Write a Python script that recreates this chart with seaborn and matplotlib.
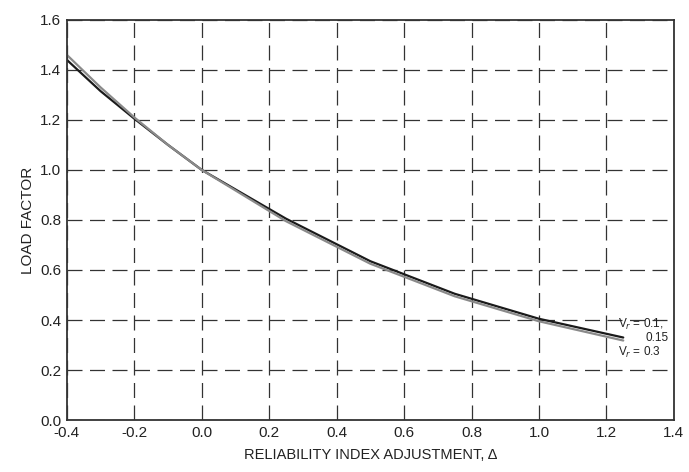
import pandas as pd
import seaborn as sns
import matplotlib.pyplot as plt

# valores
delta = [-0.4, -0.3, -0.2, -0.1, 0.0, 0.25, 0.5, 0.75, 1.0, 1.25]
fator_baixo_v = [1.44, 1.315, 1.205, 1.10, 1.00, 0.805, 0.635, 0.505, 0.405, 0.330]
fator_alto_v = [1.46, 1.33, 1.21, 1.10, 1.00, 0.795, 0.625, 0.495, 0.395, 0.318]

dados = pd.DataFrame({
    'delta': delta * 2,
    'fator': fator_baixo_v + fator_alto_v,
    'serie': ['Vr=0.1,0.15'] * len(delta) + ['Vr=0.3'] * len(delta),
})

sns.set_theme(style="white")
plt.rcParams['font.family'] = ['Liberation Sans', 'DejaVu Sans']

fig = plt.figure(figsize=(6.89, 4.72), dpi=100)
ax = fig.add_axes([0.097, 0.110, 0.881, 0.848])

sns.lineplot(x='delta', y='fator', hue='serie', data=dados, ax=ax,
             palette=['#1a1a1a', '#8a8a8a'], linewidth=1.6, legend=False)

ax.set_xlim(-0.4, 1.4)
ax.set_ylim(0.0, 1.6)
ax.set_xticks([-0.4, -0.2, 0.0, 0.2, 0.4, 0.6, 0.8, 1.0, 1.2, 1.4])
ax.set_yticks([0.0, 0.2, 0.4, 0.6, 0.8, 1.0, 1.2, 1.4, 1.6])
ax.set_xticklabels(['-0.4', '-0.2', '0.0', '0.2', '0.4', '0.6', '0.8', '1.0', '1.2', '1.4'])
ax.set_yticklabels(['0.0', '0.2', '0.4', '0.6', '0.8', '1.0', '1.2', '1.4', '1.6'])
ax.tick_params(axis='both', length=0, labelsize=11, colors='#222222', pad=4)

# grade tracejada
ax.grid(True, linestyle=(0, (12, 6)), color='#333333', linewidth=0.9)

for lado in ax.spines.values():
    lado.set_color('#333333')
    lado.set_linewidth(1.3)

ax.set_xlabel('RELIABILITY INDEX ADJUSTMENT, Δ', fontsize=10.5, color='#222222', labelpad=6)
ax.set_ylabel('LOAD FACTOR', fontsize=11, color='#222222', labelpad=4)

# rotulos das curvas
ax.text(1.235, 0.382, r'V$_r$ = 0.1,', fontsize=8.5, color='#222222', va='center')
ax.text(1.315, 0.327, '0.15', fontsize=8.5, color='#222222', va='center')
ax.text(1.235, 0.272, r'V$_r$ = 0.3', fontsize=8.5, color='#222222', va='center')

plt.savefig('out.png', dpi=100)
